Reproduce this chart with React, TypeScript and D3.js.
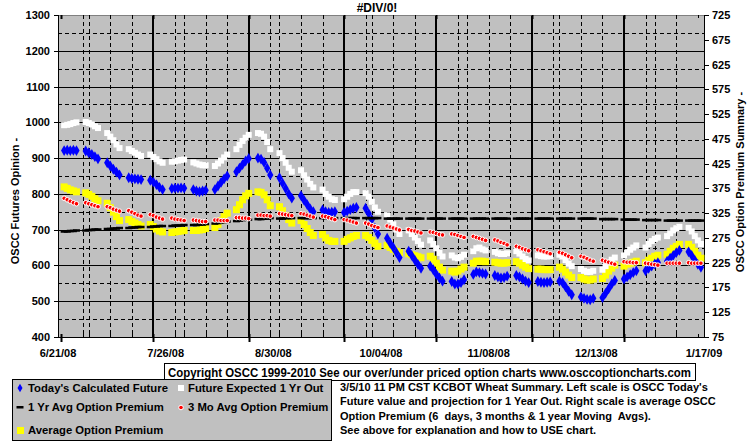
import React from 'react';
import * as d3 from 'd3';

const W = 755, H = 446;
const PL = 58, PR = 704, PT = 15, PB = 337;
const FONT = "Arial, 'Liberation Sans', sans-serif";

const xTickLabels = ['6/21/08', '7/26/08', '8/30/08', '10/04/08', '11/08/08', '12/13/08', '1/17/09'];
const leftTickValues = [400, 500, 600, 700, 800, 900, 1000, 1100, 1200, 1300];
const rightTickValues = [75, 125, 175, 225, 275, 325, 375, 425, 475, 525, 575, 625, 675, 725];

// Left scale series (one value per trading day, 30 weeks x 5 days)
const todaysFuture = [
  921, 922, 921, 922, 921, 920, 915, 910, 904, 898, 887, 878, 869, 861, 853,
  845, 843, 842, 841, 840, 838, 833, 826, 818, 812, 815, 816, 816, 817, 816,
  812, 808, 806, 808, 810, 812, 822, 832, 842, 850, 862, 872, 882, 892, 899,
  900, 897, 888, 872, 853, 845, 830, 815, 800, 788, 795, 782, 770, 758, 750,
  755, 750, 748, 749, 750, 748, 752, 756, 760, 762, 760, 745, 728, 705, 688,
  676, 662, 650, 636, 622, 640, 628, 615, 603, 592, 598, 588, 575, 565, 556,
  555, 548, 548, 552, 560, 575, 582, 580, 578, 576, 572, 568, 565, 566, 570,
  572, 568, 562, 556, 552, 555, 553, 552, 553, 554, 556, 552, 540, 528, 518,
  512, 508, 505, 504, 508, 510, 522, 535, 548, 558, 562, 568, 574, 580, 585,
  585, 592, 598, 604, 608, 612, 620, 628, 636, 642, 638, 628, 615, 603, 595,
];
const futureExpected = [
  992, 993, 995, 998, 1000, 1001, 998, 994, 989, 984, 970, 960, 950, 938, 928,
  925, 920, 915, 910, 906, 910, 903, 897, 891, 887, 890, 891, 893, 895, 896,
  888, 885, 882, 880, 880, 878, 885, 893, 902, 910, 925, 937, 948, 957, 965,
  970, 968, 960, 945, 925, 914, 900, 887, 873, 862, 866, 852, 840, 828, 818,
  812, 800, 792, 785, 783, 785, 792, 800, 805, 805, 802, 792, 778, 762, 750,
  740, 728, 715, 700, 688, 698, 688, 678, 668, 658, 670, 660, 648, 635, 625,
  628, 622, 620, 624, 630, 640, 648, 650, 645, 642, 638, 634, 632, 632, 634,
  640, 633, 625, 618, 614, 628, 626, 625, 625, 626, 630, 625, 615, 605, 598,
  590, 585, 582, 582, 585, 588, 598, 608, 616, 622, 628, 636, 644, 650, 656,
  650, 660, 668, 674, 678, 682, 690, 698, 704, 708, 705, 695, 682, 670, 660,
];
// Right scale series
const oneYrAvg = [
  288, 288, 289, 289, 290, 290, 291, 291, 292, 292, 293, 293, 294, 294, 295,
  295, 296, 296, 297, 297, 297, 298, 298, 299, 299, 299, 300, 300, 300, 301,
  301, 301, 302, 302, 303, 304, 305, 306, 307, 308, 309, 310, 311, 312, 312,
  313, 313, 314, 314, 315, 314, 314, 315, 315, 315, 315, 315, 315, 315, 315,
  315, 315, 315, 315, 315, 315, 315, 315, 315, 315, 315, 315, 315, 315, 315,
  314, 314, 314, 314, 314, 314, 314, 314, 314, 314, 314, 314, 314, 314, 314,
  314, 314, 314, 314, 314, 314, 314, 314, 314, 314, 314, 314, 314, 314, 314,
  314, 314, 314, 314, 314, 314, 314, 314, 314, 314, 314, 314, 314, 314, 314,
  314, 314, 314, 314, 314, 313, 313, 313, 313, 313, 312, 312, 312, 312, 312,
  311, 311, 311, 311, 311, 310, 310, 310, 310, 310, 310, 310, 310, 310, 310,
];
const threeMoAvg = [
  355, 352, 349, 346, 344, 346, 344, 342, 340, 338, 338, 336, 333, 331, 329,
  330, 327, 324, 321, 319, 322, 320, 317, 315, 313, 315, 313, 312, 311, 310,
  311, 310, 309, 308, 308, 311, 311, 310, 310, 310, 316, 316, 315, 315, 314,
  321, 321, 320, 320, 319, 324, 323, 322, 321, 320, 324, 323, 321, 319, 317,
  319, 318, 316, 314, 312, 312, 311, 309, 307, 305, 305, 303, 300, 298, 296,
  299, 297, 295, 293, 291, 292, 290, 289, 287, 285, 287, 286, 284, 282, 281,
  283, 282, 280, 278, 276, 278, 276, 274, 272, 270, 271, 269, 266, 264, 261,
  258, 256, 253, 251, 249, 251, 249, 247, 245, 243, 246, 244, 241, 238, 235,
  238, 236, 233, 230, 228, 230, 228, 226, 224, 222, 227, 226, 226, 225, 225,
  224, 223, 222, 221, 220, 224, 224, 224, 224, 224, 225, 224, 224, 224, 224,
];
const avgPremium = [
  378, 375, 372, 370, 368, 366, 363, 359, 354, 350, 345, 336, 327, 318, 310,
  312, 308, 305, 302, 299, 302, 298, 293, 289, 287, 286, 287, 288, 289, 290,
  290, 290, 291, 292, 294, 296, 302, 310, 318, 325, 332, 342, 352, 360, 365,
  368, 367, 362, 352, 340, 338, 330, 320, 312, 305, 310, 302, 294, 286, 280,
  282, 275, 270, 268, 268, 268, 272, 275, 278, 280, 280, 276, 270, 264, 258,
  260, 256, 252, 248, 245, 243, 241, 239, 237, 235, 238, 232, 224, 216, 210,
  208, 206, 208, 212, 216, 224, 228, 228, 228, 227, 226, 225, 224, 224, 225,
  227, 224, 220, 216, 213, 212, 212, 211, 211, 211, 216, 212, 206, 200, 195,
  195, 192, 190, 190, 192, 193, 200, 208, 214, 220, 218, 222, 224, 226, 228,
  225, 230, 234, 238, 240, 242, 248, 254, 258, 262, 262, 256, 248, 240, 234,
];

const legendLabels = [
  "Today's Calculated Future",
  'Future Expected 1 Yr Out',
  '1 Yr Avg Option Premium',
  '3 Mo Avg Option Premium',
  'Average Option Premium',
];
const copyrightText = 'Copyright OSCC 1999-2010 See our over/under priced option charts www.osccoptioncharts.com';
const noteLines = [
  "3/5/10 11 PM CST KCBOT Wheat Summary. Left scale is OSCC Today's",
  'Future value and projection for 1 Year Out. Right scale is average OSCC',
  'Option Premium (6  days, 3 months & 1 year Moving  Avgs).',
  'See above for explanation and how to USE chart.',
];

const startDate = new Date(2008, 5, 21);
const endDate = new Date(2009, 0, 17);
const tradingDays = d3
  .timeDay.range(new Date(2008, 5, 23), endDate)
  .filter((d) => d.getDay() !== 0 && d.getDay() !== 6);

export default function App() {
  const x = d3.scaleTime().domain([startDate, endDate]).range([PL, PR]);
  const yL = d3.scaleLinear().domain([400, 1300]).range([PB, PT]);
  const yR = d3.scaleLinear().domain([75, 725]).range([PB, PT]);

  const weekTicks = d3.timeDay.every(7)!.range(startDate, d3.timeDay.offset(endDate, 1));
  const halfGrid = d3.range(450, 1300, 50);

  const diamond = d3.symbol().type(d3.symbolDiamond).size(34)()!;
  const txt = { fontFamily: FONT, fontWeight: 'bold' as const, fontSize: 11, fill: '#000' };

  return (
    <svg width={W} height={H} style={{ position: 'absolute', left: 0, top: 0, background: '#fff' }}>
      <rect x={0} y={0} width={W} height={H} fill="#fff" />
      <text x={377} y={12} textAnchor="middle" {...txt} fontSize={12}>#DIV/0!</text>

      {/* plot area */}
      <rect x={PL} y={PT} width={PR - PL} height={PB - PT} fill="#c0c0c0" />
      {halfGrid.map((v) => (
        <line key={'h' + v} x1={PL} x2={PR} y1={Math.round(yL(v)) + 0.5} y2={Math.round(yL(v)) + 0.5}
          stroke="#000" strokeWidth={1} strokeDasharray={v % 100 === 0 ? undefined : '4 3'} />
      ))}
      {weekTicks.map((d, i) => {
        const px = Math.round(x(d));
        if (i === 0 || i === weekTicks.length - 1) return null;
        const major = i % 5 === 0;
        return (
          <line key={'v' + i} x1={px + (major ? 0 : 0.5)} x2={px + (major ? 0 : 0.5)} y1={PT} y2={PB}
            stroke="#000" strokeWidth={major ? 2 : 1} strokeDasharray={major ? undefined : '4 3'} />
        );
      })}
      {/* borders */}
      <line x1={PL} x2={PR} y1={PT + 0.5} y2={PT + 0.5} stroke="#808080" />
      <line x1={PL + 0.5} x2={PL + 0.5} y1={PT} y2={PB} stroke="#000" />
      <line x1={PR + 0.5} x2={PR + 0.5} y1={PT} y2={PB + 1} stroke="#000" />
      <line x1={PL} x2={PR + 1} y1={PB + 0.5} y2={PB + 0.5} stroke="#000" />
      {weekTicks.map((d, i) => {
        const px = Math.round(x(d)) + 0.5;
        const major = i % 5 === 0;
        return (
          <g key={'t' + i}>
            <line x1={px} x2={px} y1={PB - 3} y2={major ? PB + 5 : PB} stroke="#000" strokeWidth={major ? 2 : 1} />
            <line x1={px} x2={px} y1={PT} y2={major ? PT + 4 : PT + 3} stroke="#000" strokeWidth={major ? 2 : 1} />
          </g>
        );
      })}

      {/* series */}
      {avgPremium.map((v, i) => (
        <rect key={'y' + i} x={x(tradingDays[i]) - 3.5} y={yR(v) - 3.5} width={7} height={7} fill="#ffff00" />
      ))}
      {futureExpected.map((v, i) => (
        <rect key={'w' + i} x={x(tradingDays[i]) - 3} y={yL(v) - 3} width={6} height={6} fill="#ffffff" />
      ))}
      {todaysFuture.map((v, i) => (
        <path key={'b' + i} d={diamond} transform={`translate(${x(tradingDays[i])},${yL(v)})`} fill="#0000ff" />
      ))}
      {oneYrAvg.map((v, i) => (
        <rect key={'k' + i} x={x(tradingDays[i]) - 3.5} y={yR(v) - 1.25} width={7} height={2.5} fill="#000" />
      ))}
      {threeMoAvg.map((v, i) => (
        <circle key={'r' + i} cx={x(tradingDays[i])} cy={yR(v)} r={2.3} fill="#ff0000" stroke="#fff" strokeWidth={1} />
      ))}

      {/* left axis */}
      {leftTickValues.map((v) => (
        <g key={'lt' + v}>
          <line x1={PL - 4} x2={PL} y1={Math.round(yL(v)) + 0.5} y2={Math.round(yL(v)) + 0.5} stroke="#000" />
          <text x={50} y={yL(v) + 4} textAnchor="end" {...txt}>{v}</text>
        </g>
      ))}
      {/* right axis */}
      {rightTickValues.map((v) => (
        <g key={'rt' + v}>
          <line x1={PR} x2={PR + 5} y1={Math.round(yR(v)) + 0.5} y2={Math.round(yR(v)) + 0.5} stroke="#000" />
          <text x={712} y={yR(v) + 4} textAnchor="start" {...txt}>{v}</text>
        </g>
      ))}
      {/* x labels */}
      {xTickLabels.map((l, i) => (
        <text key={'xl' + i} x={x(d3.timeDay.offset(startDate, i * 35))} y={357} textAnchor="middle" {...txt}>{l}</text>
      ))}
      <text transform="translate(19,201) rotate(-90)" textAnchor="middle" {...txt}>OSCC Futures Opinion -</text>
      <text transform="translate(744,182) rotate(-90)" textAnchor="middle" {...txt}>OSCC Option Premium Summary -</text>

      {/* copyright box */}
      <rect x={164.5} y={363.5} width={531} height={17} fill="#fff" stroke="#000" />
      <text x={168} y={377} {...txt} fontSize={12} textLength={523} lengthAdjust="spacingAndGlyphs">{copyrightText}</text>

      {/* legend */}
      <rect x={12.5} y={379.5} width={319} height={61} fill="#c0c0c0" stroke="#000" />
      <path d={d3.symbol().type(d3.symbolDiamond).size(22)()!} transform="translate(20,388)" fill="#0000ff" />
      <text x={28} y={392} {...txt} fontSize={11.3}>{legendLabels[0]}</text>
      <rect x={178} y={385} width={6} height={6} fill="#fff" />
      <text x={188} y={392} {...txt} fontSize={11.3}>{legendLabels[1]}</text>
      <rect x={16.5} y={406} width={7} height={2.5} fill="#000" />
      <text x={28} y={411} {...txt} fontSize={11.3}>{legendLabels[2]}</text>
      <circle cx={181} cy={407.5} r={2.3} fill="#ff0000" stroke="#fff" />
      <text x={188} y={411} {...txt} fontSize={11.3}>{legendLabels[3]}</text>
      <rect x={17} y={427} width={7} height={7} fill="#ffff00" />
      <text x={28} y={434} {...txt} fontSize={11.3}>{legendLabels[4]}</text>

      {/* note */}
      {noteLines.map((l, i) => (
        <text key={'n' + i} x={340} y={391 + i * 14.3} {...txt} style={{ whiteSpace: 'pre' }}>{l}</text>
      ))}
    </svg>
  );
}
